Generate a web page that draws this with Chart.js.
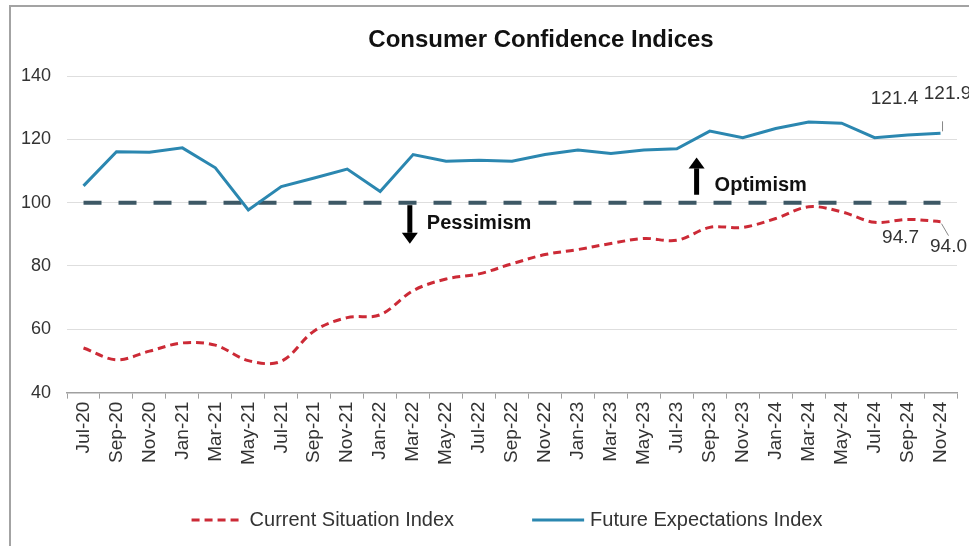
<!DOCTYPE html>
<html>
<head>
<meta charset="utf-8">
<script src="https://cdn.jsdelivr.net/npm/chart.js@4.4.1/dist/chart.umd.min.js"></script>
<style>
  html, body { margin: 0; padding: 0; background: #fff; overflow: hidden; }
  #frame { position: absolute; left: 9px; top: 5px; width: 980px; height: 580px; border: 2px solid #a3a3a3; }
  #wrap { position: absolute; left: 0; top: 0; width: 969px; height: 546px; }
</style>
</head>
<body>
<div id="frame"></div>
<div id="wrap"><canvas id="confChart"></canvas></div>
<script>
// bimonthly survey rounds
const months = ['Jul-20', 'Sep-20', 'Nov-20', 'Jan-21', 'Mar-21', 'May-21', 'Jul-21', 'Sep-21', 'Nov-21',
    'Jan-22', 'Mar-22', 'May-22', 'Jul-22', 'Sep-22', 'Nov-22', 'Jan-23', 'Mar-23', 'May-23', 'Jul-23',
    'Sep-23', 'Nov-23', 'Jan-24', 'Mar-24', 'May-24', 'Jul-24', 'Sep-24', 'Nov-24'];
const currentSituation = [54.1, 50.4, 53.1, 55.7, 55.0, 50.1, 49.9, 59.5, 63.7, 64.6, 72.2, 75.9, 77.5,
    80.7, 83.6, 85.2, 87.1, 88.7, 88.1, 92.2, 92.2, 95.0, 98.7, 97.1, 93.8, 94.7, 94.0];
const futureExpectations = [105.3, 116.1, 115.9, 117.3, 111.0, 97.7, 105.1, 107.8, 110.6, 103.5, 115.2,
    113.1, 113.4, 113.1, 115.2, 116.6, 115.5, 116.6, 117.0, 122.6, 120.5, 123.4, 125.5, 125.1, 120.5, 121.4, 121.9];
const neutralLevel = months.map(() => 100);
const yTicks = [40, 60, 80, 100, 120, 140];

const FONT = '"Liberation Sans", Arial, sans-serif';

// text notes placed in data units (index on x, index value on y)
const notes = [
    { text: '121.4', x: 25, y: 121.4, dx: -13, dy: -36 },
    { text: '121.9', x: 26, y: 121.9, dx: 7, dy: -40 },
    { text: '94.7', x: 25, y: 94.7, dx: -7, dy: 18 },
    { text: '94.0', x: 26, y: 94.0, dx: 8, dy: 25 }
];

const annotate = {
    id: 'annotate',
    afterDatasetsDraw(chart) {
        const { ctx, scales: { x, y }, chartArea } = chart;
        const mid = (chartArea.left + chartArea.right) / 2;
        ctx.save();

        // title, a bit right of centre like the original
        ctx.fillStyle = '#111';
        ctx.font = 'bold 24px ' + FONT;
        ctx.textAlign = 'center';
        ctx.textBaseline = 'middle';
        ctx.fillText('Consumer Confidence Indices', mid + 29, 40);

        // value labels
        ctx.font = '19px ' + FONT;
        ctx.fillStyle = '#333';
        notes.forEach(n => {
            ctx.fillText(n.text, x.getPixelForValue(n.x) + n.dx, y.getPixelForValue(n.y) + n.dy);
        });

        // leader lines for the last round
        ctx.strokeStyle = '#888';
        ctx.lineWidth = 1;
        ctx.beginPath();
        const lx = x.getPixelForValue(26);
        ctx.moveTo(lx + 2, y.getPixelForValue(121.9) - 2);
        ctx.lineTo(lx + 2, y.getPixelForValue(121.9) - 12);
        ctx.moveTo(lx + 1, y.getPixelForValue(94.0) + 2);
        ctx.lineTo(lx + 8, y.getPixelForValue(94.0) + 14);
        ctx.stroke();

        // optimism / pessimism arrows
        drawArrow(ctx, x.getPixelForValue(18.6), y.getPixelForValue(102.5), y.getPixelForValue(114.3));
        drawArrow(ctx, x.getPixelForValue(9.9), y.getPixelForValue(99.2), y.getPixelForValue(87.0));
        ctx.fillStyle = '#111';
        ctx.font = 'bold 20px ' + FONT;
        ctx.textAlign = 'left';
        ctx.fillText('Optimism', x.getPixelForValue(18.6) + 18, y.getPixelForValue(105.5));
        ctx.fillText('Pessimism', x.getPixelForValue(9.9) + 17, y.getPixelForValue(93.5));

        // legend, drawn by hand so the spacing matches
        const items = chart.data.datasets.filter(d => d.label !== 'Neutral');
        ctx.font = '20px ' + FONT;
        const sample = 52, gapText = 6, gapItem = 78;
        const widths = items.map(d => sample + gapText + ctx.measureText(d.label).width);
        const total = widths.reduce((a, b) => a + b, 0) + gapItem * (items.length - 1);
        let lx0 = mid - 5 - total / 2;
        const ly = 520;
        items.forEach((d, i) => {
            ctx.strokeStyle = d.borderColor;
            ctx.lineWidth = d.borderWidth;
            ctx.setLineDash(d.borderDash || []);
            ctx.beginPath();
            ctx.moveTo(lx0, ly);
            ctx.lineTo(lx0 + sample, ly);
            ctx.stroke();
            ctx.setLineDash([]);
            ctx.fillStyle = '#333';
            ctx.fillText(d.label, lx0 + sample + gapText, ly);
            lx0 += widths[i] + gapItem;
        });
        ctx.restore();
    }
};

function drawArrow(ctx, px, yFrom, yTo) {
    const dir = yTo < yFrom ? -1 : 1;
    const head = 11;
    ctx.fillStyle = '#000';
    ctx.fillRect(px - 2.5, Math.min(yFrom, yTo - dir * head), 5, Math.abs(yTo - dir * head - yFrom));
    ctx.beginPath();
    ctx.moveTo(px - 8, yTo - dir * head);
    ctx.lineTo(px + 8, yTo - dir * head);
    ctx.lineTo(px, yTo);
    ctx.closePath();
    ctx.fill();
}

const data = {
    labels: months,
    datasets: [{
        label: 'Current Situation Index',
        data: currentSituation,
        borderColor: '#cc2a36',
        backgroundColor: 'transparent',
        borderWidth: 3,
        borderDash: [8, 5],
        tension: 0.35,
        pointRadius: 0
    }, {
        label: 'Future Expectations Index',
        data: futureExpectations,
        borderColor: '#2b87b0',
        backgroundColor: 'transparent',
        borderWidth: 3,
        tension: 0,
        pointRadius: 0
    }, {
        label: 'Neutral',
        data: neutralLevel,
        borderColor: '#3d5865',
        borderWidth: 4,
        borderDash: [18, 17],
        pointRadius: 0
    }]
};

const config = {
    type: 'line',
    data: data,
    options: {
        responsive: true,
        maintainAspectRatio: false,
        animation: false,
        layout: {
            padding: { top: 76, left: 5, right: 12, bottom: 78 }
        },
        scales: {
            x: {
                offset: true,
                grid: {
                    offset: true,
                    drawOnChartArea: false,
                    drawTicks: true,
                    tickLength: 6,
                    color: '#a0a0a0'
                },
                border: { color: '#a0a0a0', width: 1.5 },
                ticks: {
                    color: '#333',
                    font: { family: FONT, size: 19 },
                    minRotation: 90,
                    maxRotation: 90,
                    autoSkip: false,
                    padding: 3
                }
            },
            y: {
                min: 40,
                max: 140,
                afterBuildTicks: axis => { axis.ticks = yTicks.map(v => ({ value: v })); },
                grid: { color: '#dedede', drawTicks: false },
                border: { display: false },
                ticks: {
                    color: '#333',
                    font: { family: FONT, size: 18 },
                    padding: 16
                }
            }
        },
        plugins: {
            legend: { display: false },
            title: { display: false },
            tooltip: { enabled: false }
        }
    },
    plugins: [annotate]
};

const ctx = document.getElementById('confChart').getContext('2d');
const confChart = new Chart(ctx, config);
</script>
</body>
</html>
